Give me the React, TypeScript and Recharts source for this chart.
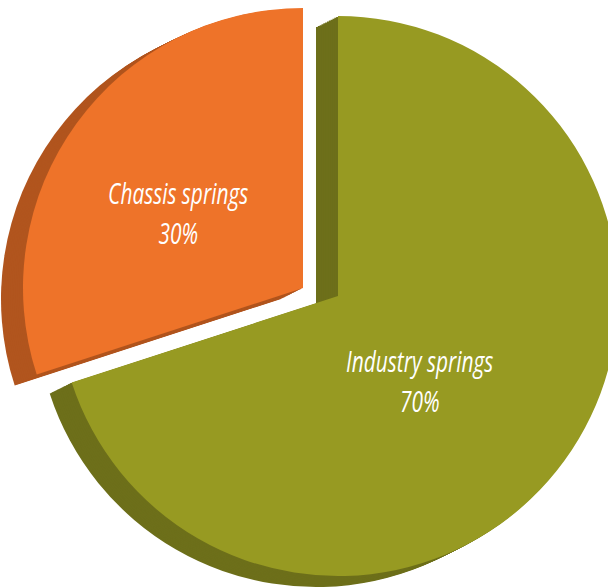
import React from 'react';
import { PieChart, Pie, Cell } from 'recharts';

const SEGMENTS = ['Industry springs', 'Chassis springs'];
const SHARES = [70, 30];

const FACE = ['#979A22', '#EE7329'];
const WALL = ['#6D6F1A', '#B1551E'];
// the orange slice is pulled out of the pie
const CENTERS = [
  { cx: 338, cy: 296 },
  { cx: 303, cy: 288 },
];
const RADIUS = 280;
const DEPTH = { dx: -22, dy: 11, steps: 12 };
const LABEL_POS = [
  { r: 0.42, da: -10 },
  { r: 0.52, da: 5 },
];

const data = SEGMENTS.map((name, i) => ({ name, value: SHARES[i] }));
const RAD = Math.PI / 180;

const renderLabel = (slice: number) => (props: any) => {
  const { cx, cy, midAngle, outerRadius, index, name, value } = props;
  if (index !== slice) return null;
  const pos = LABEL_POS[index];
  const a = (midAngle + pos.da) * RAD;
  const x = cx + outerRadius * pos.r * Math.cos(-a);
  const y = cy + outerRadius * pos.r * Math.sin(-a);
  // narrow italic face, squeezed to look like a condensed font
  return (
    <g transform={`translate(${x},${y}) scale(0.72,1)`}>
      <text
        x={0}
        y={0}
        fill="#fff"
        textAnchor="middle"
        dominantBaseline="central"
        fontStyle="italic"
        fontFamily="'Open Sans', sans-serif"
        fontSize={29}
      >
        <tspan x={0} y={-20}>{name}</tspan>
        <tspan x={0} y={20}>{value}%</tspan>
      </text>
    </g>
  );
};

export default function App() {
  const layers: React.ReactNode[] = [];
  [0, 1].forEach((s) => {
    const { cx, cy } = CENTERS[s];
    for (let k = DEPTH.steps; k >= 1; k--) {
      layers.push(
        <Pie
          key={`wall-${s}-${k}`}
          data={data}
          dataKey="value"
          cx={cx + (DEPTH.dx * k) / DEPTH.steps}
          cy={cy + (DEPTH.dy * k) / DEPTH.steps}
          outerRadius={RADIUS}
          startAngle={90}
          endAngle={-270}
          stroke="none"
          isAnimationActive={false}
        >
          {data.map((d, i) => (
            <Cell key={d.name} fill={i === s ? WALL[s] : 'none'} />
          ))}
        </Pie>
      );
    }
    layers.push(
      <Pie
        key={`face-${s}`}
        data={data}
        dataKey="value"
        cx={cx}
        cy={cy}
        outerRadius={RADIUS}
        startAngle={90}
        endAngle={-270}
        stroke="none"
        labelLine={false}
        label={renderLabel(s)}
        isAnimationActive={false}
      >
        {data.map((d, i) => (
          <Cell key={d.name} fill={i === s ? FACE[s] : 'none'} />
        ))}
      </Pie>
    );
  });

  return (
    <div style={{ position: 'absolute', left: 0, top: 0, background: '#fff' }}>
      <PieChart width={608} height={588} margin={{ top: 0, right: 0, bottom: 0, left: 0 }}>
        {layers}
      </PieChart>
    </div>
  );
}
